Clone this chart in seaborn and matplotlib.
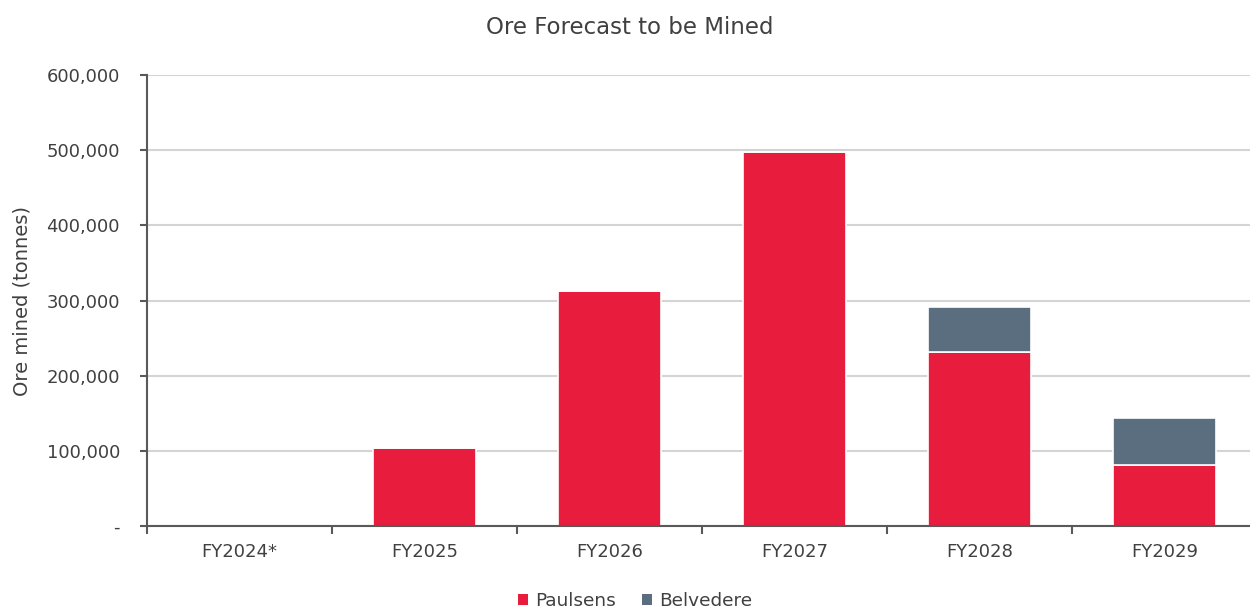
import matplotlib
matplotlib.use("Agg")
import matplotlib.pyplot as plt
import matplotlib.ticker as mticker
from matplotlib.patches import Patch
import numpy as np
import pandas as pd
import seaborn as sns

# Ore tonnes forecast to be mined per financial year
years = ["FY2024*", "FY2025", "FY2026", "FY2027", "FY2028", "FY2029"]
paulsens = [0, 104000, 312000, 497000, 231000, 81000]
belvedere = [0, 0, 0, 0, 60000, 63000]

RED = "#E81C3C"
SLATE = "#5B6E80"
TEXT = "#404040"
AXIS = "#595959"

sns.set_theme(style="white")
plt.rcParams["font.family"] = ["DejaVu Sans"]

df = pd.DataFrame({"year": years, "Paulsens": paulsens, "Belvedere": belvedere})

fig = plt.figure(figsize=(12.5, 6.1), dpi=100)
ax = fig.add_axes([147 / 1250, 84 / 610, 1110 / 1250, 451 / 610])

bar_kw = dict(width=0.56, edgecolor="white", linewidth=1.2, saturation=1, zorder=2)
sns.barplot(data=df, x="year", y="Paulsens", color=RED, ax=ax, **bar_kw)
sns.barplot(data=df, x="year", y="Belvedere", color=SLATE, ax=ax,
            bottom=df["Paulsens"].to_numpy(), **bar_kw)

ax.set_xlim(-0.5, len(years) - 0.5)
ax.set_ylim(0, 600000)
ax.yaxis.set_major_locator(mticker.MultipleLocator(100000))
ax.yaxis.set_major_formatter(
    mticker.FuncFormatter(lambda v, _: "-" if v == 0 else f"{v:,.0f}"))

ax.grid(axis="y", color="#D4D4D4", linewidth=1.5, zorder=0)
ax.set_axisbelow(True)

for side in ("top", "right"):
    ax.spines[side].set_visible(False)
for side in ("left", "bottom"):
    ax.spines[side].set_color(AXIS)
    ax.spines[side].set_linewidth(1.5)
    ax.spines[side].set_zorder(3)

# category labels centred, tick marks on the boundaries between categories
ax.set_xticks(np.arange(len(years)))
ax.set_xticklabels(years)
ax.xaxis.set_minor_locator(mticker.FixedLocator(np.arange(-0.5, len(years), 1.0)))
ax.tick_params(axis="x", which="major", bottom=True, length=0, pad=12,
               labelsize=13, labelcolor=TEXT)
ax.tick_params(axis="x", which="minor", bottom=True, length=6, width=1.5,
               color=AXIS, direction="out")
ax.tick_params(axis="y", which="major", length=5, width=1.5, color=AXIS, direction="out",
               left=True, pad=14.5, labelsize=13, labelcolor=TEXT)

ax.set_xlabel("")
ax.set_ylabel("Ore mined (tonnes)", fontsize=14, color=TEXT)
ax.yaxis.set_label_coords(-0.104, 0.5)

fig.text(0.504, 0.955, "Ore Forecast to be Mined", ha="center", va="center",
         fontsize=16.5, color=TEXT)

handles = [Patch(facecolor=RED, edgecolor="none", label="Paulsens"),
           Patch(facecolor=SLATE, edgecolor="none", label="Belvedere")]
fig.legend(handles=handles, loc="center", bbox_to_anchor=(0.508, 0.015), ncol=2,
           frameon=False, fontsize=13.3, handlelength=0.55, handleheight=0.55,
           handletextpad=0.4, columnspacing=1.4, labelcolor=TEXT)

fig.savefig("out.png", dpi=100)
